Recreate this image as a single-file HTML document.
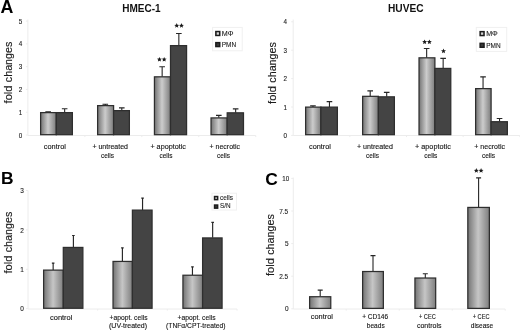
<!DOCTYPE html>
<html><head><meta charset="utf-8"><title>figure</title>
<style>html,body{margin:0;padding:0;background:#fff}svg{display:block;will-change:transform;filter:blur(0.4px)}text{font-family:'Liberation Sans', sans-serif}</style>
</head><body>
<svg width="520" height="331" viewBox="0 0 520 331">
<defs>
<linearGradient id="lgA" x1="0" y1="0" x2="1" y2="0"><stop offset="0" stop-color="#747474"/><stop offset="0.47" stop-color="#cccccc"/><stop offset="1" stop-color="#7c7c7c"/></linearGradient>
<linearGradient id="lgC" x1="0" y1="0" x2="1" y2="0"><stop offset="0" stop-color="#747474"/><stop offset="0.48" stop-color="#c6c6c6"/><stop offset="1" stop-color="#7e7e7e"/></linearGradient>
<linearGradient id="lgL" x1="0" y1="0" x2="1" y2="0"><stop offset="0" stop-color="#9a9a9a"/><stop offset="0.5" stop-color="#e0e0e0"/><stop offset="1" stop-color="#a0a0a0"/></linearGradient>
</defs>
<rect width="520" height="331" fill="#fff"/>
<rect x="212.6" y="27.4" width="29.6" height="23.4" fill="#fff" stroke="#f0f0f0" stroke-width="1"/>
<rect x="215.85" y="31.55" width="3.9" height="3.9" fill="url(#lgL)" stroke="#1c1c1c" stroke-width="1.5"/>
<text x="221.8" y="36" font-size="6.5" text-anchor="start" fill="#222" stroke="#222" stroke-width="0.1" textLength="11.7" lengthAdjust="spacingAndGlyphs">MΦ</text>
<rect x="215.85" y="42.65" width="3.9" height="3.9" fill="#383838" stroke="#1c1c1c" stroke-width="1.5"/>
<text x="221.8" y="47.3" font-size="6.5" text-anchor="start" fill="#222" stroke="#222" stroke-width="0.1" textLength="14.4" lengthAdjust="spacingAndGlyphs">PMN</text>
<rect x="476.3" y="27.4" width="30.4" height="24" fill="#fff" stroke="#f0f0f0" stroke-width="1"/>
<rect x="480.15" y="31.65" width="3.9" height="3.9" fill="url(#lgL)" stroke="#1c1c1c" stroke-width="1.5"/>
<text x="486.2" y="36" font-size="6.5" text-anchor="start" fill="#222" stroke="#222" stroke-width="0.1" textLength="11.6" lengthAdjust="spacingAndGlyphs">MΦ</text>
<rect x="480.15" y="43.35" width="3.9" height="3.9" fill="#383838" stroke="#1c1c1c" stroke-width="1.5"/>
<text x="486.2" y="47.6" font-size="6.5" text-anchor="start" fill="#222" stroke="#222" stroke-width="0.1" textLength="14.4" lengthAdjust="spacingAndGlyphs">PMN</text>
<rect x="212" y="193.2" width="24.5" height="16.8" fill="#fff" stroke="#f0f0f0" stroke-width="1"/>
<rect x="214.55" y="196.55" width="3.1" height="3.1" fill="url(#lgL)" stroke="#1c1c1c" stroke-width="1.5"/>
<text x="220" y="200.1" font-size="6.6" text-anchor="start" fill="#222" stroke="#222" stroke-width="0.1" textLength="12.9" lengthAdjust="spacingAndGlyphs">cells</text>
<rect x="214.55" y="205.05" width="3.1" height="3.1" fill="#383838" stroke="#1c1c1c" stroke-width="1.5"/>
<text x="220" y="208.4" font-size="6.6" text-anchor="start" fill="#222" stroke="#222" stroke-width="0.1" textLength="10.6" lengthAdjust="spacingAndGlyphs">S/N</text>
<path d="M27.9 19.5V135.5H255.75M84.86 135.5v1.6M141.82 135.5v1.6M198.79 135.5v1.6M255.75 135.5v1.6" stroke="#ececec" stroke-width="1" fill="none"/>
<path d="M25.9 21.1H27.9" stroke="#ececec" stroke-width="1"/>
<text x="18.8" y="23.7" font-size="7.6" text-anchor="start" fill="#1a1a1a" stroke="#1a1a1a" stroke-width="0.12" textLength="3.5" lengthAdjust="spacingAndGlyphs">5</text>
<path d="M25.9 43.88H27.9" stroke="#ececec" stroke-width="1"/>
<text x="18.8" y="46.48" font-size="7.6" text-anchor="start" fill="#1a1a1a" stroke="#1a1a1a" stroke-width="0.12" textLength="3.5" lengthAdjust="spacingAndGlyphs">4</text>
<path d="M25.9 66.66H27.9" stroke="#ececec" stroke-width="1"/>
<text x="18.8" y="69.26" font-size="7.6" text-anchor="start" fill="#1a1a1a" stroke="#1a1a1a" stroke-width="0.12" textLength="3.5" lengthAdjust="spacingAndGlyphs">3</text>
<path d="M25.9 89.44H27.9" stroke="#ececec" stroke-width="1"/>
<text x="18.8" y="92.04" font-size="7.6" text-anchor="start" fill="#1a1a1a" stroke="#1a1a1a" stroke-width="0.12" textLength="3.5" lengthAdjust="spacingAndGlyphs">2</text>
<path d="M25.9 112.22H27.9" stroke="#ececec" stroke-width="1"/>
<text x="18.8" y="114.82" font-size="7.6" text-anchor="start" fill="#1a1a1a" stroke="#1a1a1a" stroke-width="0.12" textLength="3.5" lengthAdjust="spacingAndGlyphs">1</text>
<path d="M25.9 135H27.9" stroke="#ececec" stroke-width="1"/>
<text x="18.8" y="137.6" font-size="7.6" text-anchor="start" fill="#1a1a1a" stroke="#1a1a1a" stroke-width="0.12" textLength="3.5" lengthAdjust="spacingAndGlyphs">0</text>
<text transform="translate(11.5 103.4) rotate(-90)" font-size="11.3" fill="#1c1c1c" stroke="#1c1c1c" stroke-width="0.15" textLength="17.8" lengthAdjust="spacingAndGlyphs">fold</text>
<text transform="translate(11.5 82.2) rotate(-90)" font-size="11.3" fill="#1c1c1c" stroke="#1c1c1c" stroke-width="0.15" textLength="40.6" lengthAdjust="spacingAndGlyphs">changes</text>
<path d="M48.15 112.5V111.4M45.35 111.9H50.95" stroke="#262626" stroke-width="1.1" fill="none"/>
<rect x="40.62" y="112.62" width="15.67" height="22.05" fill="url(#lgA)" stroke="#2e2e2e" stroke-width="1.25"/>
<path d="M64.65 112.5V108.2M61.85 108.7H67.45" stroke="#262626" stroke-width="1.1" fill="none"/>
<rect x="56.3" y="112.62" width="16.08" height="22.05" fill="#444444" stroke="#2e2e2e" stroke-width="1.25"/>
<path d="M105.3 105.5V103.8M102.5 104.3H108.1" stroke="#262626" stroke-width="1.1" fill="none"/>
<rect x="97.62" y="105.62" width="15.97" height="29.05" fill="url(#lgA)" stroke="#2e2e2e" stroke-width="1.25"/>
<path d="M121.8 110.5V107.4M119 107.9H124.6" stroke="#262626" stroke-width="1.1" fill="none"/>
<rect x="113.6" y="110.62" width="15.78" height="24.05" fill="#444444" stroke="#2e2e2e" stroke-width="1.25"/>
<path d="M162.15 76.7V66.3M159.35 66.8H164.95" stroke="#262626" stroke-width="1.1" fill="none"/>
<rect x="154.43" y="76.83" width="16.07" height="57.85" fill="url(#lgA)" stroke="#2e2e2e" stroke-width="1.25"/>
<path d="M178.85 45.5V33M176.05 33.5H181.65" stroke="#262626" stroke-width="1.1" fill="none"/>
<rect x="170.5" y="45.62" width="16.07" height="89.05" fill="#444444" stroke="#2e2e2e" stroke-width="1.25"/>
<path d="M218.8 117.8V114.9M216 115.4H221.6" stroke="#262626" stroke-width="1.1" fill="none"/>
<rect x="211.03" y="117.92" width="16.17" height="16.75" fill="url(#lgA)" stroke="#2e2e2e" stroke-width="1.25"/>
<path d="M235.65 112.7V108.4M232.85 108.9H238.45" stroke="#262626" stroke-width="1.1" fill="none"/>
<rect x="227.2" y="112.83" width="16.28" height="21.85" fill="#444444" stroke="#2e2e2e" stroke-width="1.25"/>
<text x="43.8" y="148.6" font-size="7.2" text-anchor="start" fill="#151515" stroke="#151515" stroke-width="0.12" textLength="22.2" lengthAdjust="spacingAndGlyphs">control</text>
<text x="92.4" y="148.5" font-size="7.2" text-anchor="start" fill="#151515" stroke="#151515" stroke-width="0.12" textLength="35.6" lengthAdjust="spacingAndGlyphs">+ untreated</text>
<text x="101" y="157.5" font-size="7.2" text-anchor="start" fill="#151515" stroke="#151515" stroke-width="0.12" textLength="13" lengthAdjust="spacingAndGlyphs">cells</text>
<text x="150.4" y="148.5" font-size="7.2" text-anchor="start" fill="#151515" stroke="#151515" stroke-width="0.12" textLength="35.6" lengthAdjust="spacingAndGlyphs">+ apoptotic</text>
<text x="159.4" y="157.5" font-size="7.2" text-anchor="start" fill="#151515" stroke="#151515" stroke-width="0.12" textLength="13" lengthAdjust="spacingAndGlyphs">cells</text>
<text x="209.6" y="148.5" font-size="7.2" text-anchor="start" fill="#151515" stroke="#151515" stroke-width="0.12" textLength="30.4" lengthAdjust="spacingAndGlyphs">+ necrotic</text>
<text x="217" y="157.5" font-size="7.2" text-anchor="start" fill="#151515" stroke="#151515" stroke-width="0.12" textLength="13" lengthAdjust="spacingAndGlyphs">cells</text>
<path d="M293.2 19.5V135.5H519.8M349.85 135.5v1.6M406.5 135.5v1.6M463.15 135.5v1.6M519.8 135.5v1.6" stroke="#ececec" stroke-width="1" fill="none"/>
<path d="M291.2 21.8H293.2" stroke="#ececec" stroke-width="1"/>
<text x="283.6" y="24.4" font-size="7.6" text-anchor="start" fill="#1a1a1a" stroke="#1a1a1a" stroke-width="0.12" textLength="3.5" lengthAdjust="spacingAndGlyphs">4</text>
<path d="M291.2 50.2H293.2" stroke="#ececec" stroke-width="1"/>
<text x="283.6" y="52.8" font-size="7.6" text-anchor="start" fill="#1a1a1a" stroke="#1a1a1a" stroke-width="0.12" textLength="3.5" lengthAdjust="spacingAndGlyphs">3</text>
<path d="M291.2 78.6H293.2" stroke="#ececec" stroke-width="1"/>
<text x="283.6" y="81.2" font-size="7.6" text-anchor="start" fill="#1a1a1a" stroke="#1a1a1a" stroke-width="0.12" textLength="3.5" lengthAdjust="spacingAndGlyphs">2</text>
<path d="M291.2 107H293.2" stroke="#ececec" stroke-width="1"/>
<text x="283.6" y="109.6" font-size="7.6" text-anchor="start" fill="#1a1a1a" stroke="#1a1a1a" stroke-width="0.12" textLength="3.5" lengthAdjust="spacingAndGlyphs">1</text>
<path d="M291.2 135.4H293.2" stroke="#ececec" stroke-width="1"/>
<text x="283.6" y="138" font-size="7.6" text-anchor="start" fill="#1a1a1a" stroke="#1a1a1a" stroke-width="0.12" textLength="3.5" lengthAdjust="spacingAndGlyphs">0</text>
<text transform="translate(275.6 103.9) rotate(-90)" font-size="11.3" fill="#1c1c1c" stroke="#1c1c1c" stroke-width="0.15" textLength="17.8" lengthAdjust="spacingAndGlyphs">fold</text>
<text transform="translate(275.6 82.7) rotate(-90)" font-size="11.3" fill="#1c1c1c" stroke="#1c1c1c" stroke-width="0.15" textLength="40.6" lengthAdjust="spacingAndGlyphs">changes</text>
<path d="M312.95 107V105.4M310.15 105.9H315.75" stroke="#262626" stroke-width="1.1" fill="none"/>
<rect x="305.62" y="107.12" width="15.27" height="27.55" fill="url(#lgA)" stroke="#2e2e2e" stroke-width="1.25"/>
<path d="M329.45 107V101.1M326.65 101.6H332.25" stroke="#262626" stroke-width="1.1" fill="none"/>
<rect x="320.9" y="107.12" width="16.48" height="27.55" fill="#444444" stroke="#2e2e2e" stroke-width="1.25"/>
<path d="M370.2 96.2V90.4M367.4 90.9H373" stroke="#262626" stroke-width="1.1" fill="none"/>
<rect x="362.62" y="96.33" width="15.77" height="38.35" fill="url(#lgA)" stroke="#2e2e2e" stroke-width="1.25"/>
<path d="M386.7 96.7V91.9M383.9 92.4H389.5" stroke="#262626" stroke-width="1.1" fill="none"/>
<rect x="378.4" y="96.83" width="15.98" height="37.85" fill="#444444" stroke="#2e2e2e" stroke-width="1.25"/>
<path d="M426.65 57.7V48M423.85 48.5H429.45" stroke="#262626" stroke-width="1.1" fill="none"/>
<rect x="419.02" y="57.83" width="15.88" height="76.85" fill="url(#lgA)" stroke="#2e2e2e" stroke-width="1.25"/>
<path d="M443.15 68.3V57.9M440.35 58.4H445.95" stroke="#262626" stroke-width="1.1" fill="none"/>
<rect x="434.9" y="68.42" width="15.88" height="66.25" fill="#444444" stroke="#2e2e2e" stroke-width="1.25"/>
<path d="M483.05 88.5V76.4M480.25 76.9H485.85" stroke="#262626" stroke-width="1.1" fill="none"/>
<rect x="475.62" y="88.62" width="15.48" height="46.05" fill="url(#lgA)" stroke="#2e2e2e" stroke-width="1.25"/>
<path d="M499.55 121.6V118M496.75 118.5H502.35" stroke="#262626" stroke-width="1.1" fill="none"/>
<rect x="491.1" y="121.72" width="16.27" height="12.95" fill="#444444" stroke="#2e2e2e" stroke-width="1.25"/>
<text x="309" y="148.6" font-size="7.2" text-anchor="start" fill="#151515" stroke="#151515" stroke-width="0.12" textLength="22" lengthAdjust="spacingAndGlyphs">control</text>
<text x="357" y="148.5" font-size="7.2" text-anchor="start" fill="#151515" stroke="#151515" stroke-width="0.12" textLength="36" lengthAdjust="spacingAndGlyphs">+ untreated</text>
<text x="366" y="157.5" font-size="7.2" text-anchor="start" fill="#151515" stroke="#151515" stroke-width="0.12" textLength="13" lengthAdjust="spacingAndGlyphs">cells</text>
<text x="415" y="148.5" font-size="7.2" text-anchor="start" fill="#151515" stroke="#151515" stroke-width="0.12" textLength="35.8" lengthAdjust="spacingAndGlyphs">+ apoptotic</text>
<text x="424.2" y="157.5" font-size="7.2" text-anchor="start" fill="#151515" stroke="#151515" stroke-width="0.12" textLength="13.2" lengthAdjust="spacingAndGlyphs">cells</text>
<text x="474.3" y="148.5" font-size="7.2" text-anchor="start" fill="#151515" stroke="#151515" stroke-width="0.12" textLength="30.7" lengthAdjust="spacingAndGlyphs">+ necrotic</text>
<text x="481.9" y="157.5" font-size="7.2" text-anchor="start" fill="#151515" stroke="#151515" stroke-width="0.12" textLength="13.2" lengthAdjust="spacingAndGlyphs">cells</text>
<path d="M28 190.5V309H237M97.67 309v1.6M167.33 309v1.6M237 309v1.6" stroke="#ececec" stroke-width="1" fill="none"/>
<path d="M26 190.5H28" stroke="#ececec" stroke-width="1"/>
<text x="20.2" y="193.1" font-size="7.6" text-anchor="start" fill="#1a1a1a" stroke="#1a1a1a" stroke-width="0.12" textLength="3.6" lengthAdjust="spacingAndGlyphs">3</text>
<path d="M26 229.9H28" stroke="#ececec" stroke-width="1"/>
<text x="20.2" y="232.5" font-size="7.6" text-anchor="start" fill="#1a1a1a" stroke="#1a1a1a" stroke-width="0.12" textLength="3.6" lengthAdjust="spacingAndGlyphs">2</text>
<path d="M26 269.3H28" stroke="#ececec" stroke-width="1"/>
<text x="20.2" y="271.9" font-size="7.6" text-anchor="start" fill="#1a1a1a" stroke="#1a1a1a" stroke-width="0.12" textLength="3.6" lengthAdjust="spacingAndGlyphs">1</text>
<path d="M26 308.7H28" stroke="#ececec" stroke-width="1"/>
<text x="20.2" y="311.3" font-size="7.6" text-anchor="start" fill="#1a1a1a" stroke="#1a1a1a" stroke-width="0.12" textLength="3.6" lengthAdjust="spacingAndGlyphs">0</text>
<text transform="translate(11.7 273.5) rotate(-90)" font-size="11.3" fill="#1c1c1c" stroke="#1c1c1c" stroke-width="0.15" textLength="17.8" lengthAdjust="spacingAndGlyphs">fold</text>
<text transform="translate(11.7 252.3) rotate(-90)" font-size="11.3" fill="#1c1c1c" stroke="#1c1c1c" stroke-width="0.15" textLength="40.6" lengthAdjust="spacingAndGlyphs">changes</text>
<path d="M53.15 270V262.6M51.85 263.1H54.45" stroke="#262626" stroke-width="1.15" fill="none"/>
<rect x="43.62" y="270.12" width="19.67" height="38.15" fill="url(#lgC)" stroke="#2e2e2e" stroke-width="1.25"/>
<path d="M73.4 247.3V235M72.1 235.5H74.7" stroke="#262626" stroke-width="1.15" fill="none"/>
<rect x="63.3" y="247.43" width="19.58" height="60.85" fill="#444444" stroke="#2e2e2e" stroke-width="1.25"/>
<path d="M122.4 261.3V247.3M121.1 247.8H123.7" stroke="#262626" stroke-width="1.15" fill="none"/>
<rect x="113.03" y="261.43" width="19.38" height="46.85" fill="url(#lgC)" stroke="#2e2e2e" stroke-width="1.25"/>
<path d="M142.55 210V197.6M141.25 198.1H143.85" stroke="#262626" stroke-width="1.15" fill="none"/>
<rect x="132.4" y="210.12" width="19.67" height="98.15" fill="#444444" stroke="#2e2e2e" stroke-width="1.25"/>
<path d="M192.45 275.1V266.4M191.15 266.9H193.75" stroke="#262626" stroke-width="1.15" fill="none"/>
<rect x="182.93" y="275.23" width="19.67" height="33.05" fill="url(#lgC)" stroke="#2e2e2e" stroke-width="1.25"/>
<path d="M212.65 237.8V221.9M211.35 222.4H213.95" stroke="#262626" stroke-width="1.15" fill="none"/>
<rect x="202.6" y="237.93" width="19.47" height="70.35" fill="#444444" stroke="#2e2e2e" stroke-width="1.25"/>
<text x="50" y="319.7" font-size="7.2" text-anchor="start" fill="#151515" stroke="#151515" stroke-width="0.12" textLength="22.4" lengthAdjust="spacingAndGlyphs">control</text>
<text x="109.5" y="319.7" font-size="7.2" text-anchor="start" fill="#151515" stroke="#151515" stroke-width="0.12" textLength="38" lengthAdjust="spacingAndGlyphs">+apopt. cells</text>
<text x="109" y="328.4" font-size="7.2" text-anchor="start" fill="#151515" stroke="#151515" stroke-width="0.12" textLength="38.1" lengthAdjust="spacingAndGlyphs">(UV-treated)</text>
<text x="177.5" y="319.7" font-size="7.2" text-anchor="start" fill="#151515" stroke="#151515" stroke-width="0.12" textLength="38" lengthAdjust="spacingAndGlyphs">+apopt. cells</text>
<text x="166.1" y="328.4" font-size="7.2" text-anchor="start" fill="#151515" stroke="#151515" stroke-width="0.12" textLength="59.4" lengthAdjust="spacingAndGlyphs">(TNFα/CPT-treated)</text>
<path d="M293.25 177.5V309H505.2M346.24 309v1.6M399.23 309v1.6M452.21 309v1.6M505.2 309v1.6" stroke="#ececec" stroke-width="1" fill="none"/>
<path d="M291.25 308.8H293.25" stroke="#ececec" stroke-width="1"/>
<text x="285" y="311.4" font-size="7.6" text-anchor="start" fill="#1a1a1a" stroke="#1a1a1a" stroke-width="0.12" textLength="3.6" lengthAdjust="spacingAndGlyphs">0</text>
<path d="M291.25 276.2H293.25" stroke="#ececec" stroke-width="1"/>
<text x="279.2" y="278.8" font-size="7.6" text-anchor="start" fill="#1a1a1a" stroke="#1a1a1a" stroke-width="0.12" textLength="9" lengthAdjust="spacingAndGlyphs">2.5</text>
<path d="M291.25 243.6H293.25" stroke="#ececec" stroke-width="1"/>
<text x="285" y="246.2" font-size="7.6" text-anchor="start" fill="#1a1a1a" stroke="#1a1a1a" stroke-width="0.12" textLength="3.6" lengthAdjust="spacingAndGlyphs">5</text>
<path d="M291.25 211H293.25" stroke="#ececec" stroke-width="1"/>
<text x="279.2" y="213.6" font-size="7.6" text-anchor="start" fill="#1a1a1a" stroke="#1a1a1a" stroke-width="0.12" textLength="9" lengthAdjust="spacingAndGlyphs">7.5</text>
<path d="M291.25 178.4H293.25" stroke="#ececec" stroke-width="1"/>
<text x="282.2" y="181" font-size="7.6" text-anchor="start" fill="#1a1a1a" stroke="#1a1a1a" stroke-width="0.12" textLength="6.9" lengthAdjust="spacingAndGlyphs">10</text>
<text transform="translate(274 276) rotate(-90)" font-size="11.3" fill="#1c1c1c" stroke="#1c1c1c" stroke-width="0.15" textLength="17.8" lengthAdjust="spacingAndGlyphs">fold</text>
<text transform="translate(274 254.8) rotate(-90)" font-size="11.3" fill="#1c1c1c" stroke="#1c1c1c" stroke-width="0.15" textLength="40.6" lengthAdjust="spacingAndGlyphs">changes</text>
<path d="M320.2 296.6V289.6M317.7 290.1H322.7" stroke="#262626" stroke-width="1.1" fill="none"/>
<rect x="309.62" y="296.73" width="21.15" height="11.65" fill="url(#lgC)" stroke="#2e2e2e" stroke-width="1.25"/>
<path d="M373 271.4V255.1M370.5 255.6H375.5" stroke="#262626" stroke-width="1.1" fill="none"/>
<rect x="362.62" y="271.52" width="20.75" height="36.85" fill="url(#lgC)" stroke="#2e2e2e" stroke-width="1.25"/>
<path d="M425.3 277.9V273.3M422.8 273.8H427.8" stroke="#262626" stroke-width="1.1" fill="none"/>
<rect x="414.93" y="278.02" width="20.75" height="30.35" fill="url(#lgC)" stroke="#2e2e2e" stroke-width="1.25"/>
<path d="M478.6 207.3V177.4M476.1 177.9H481.1" stroke="#262626" stroke-width="1.1" fill="none"/>
<rect x="467.82" y="207.43" width="21.55" height="100.95" fill="url(#lgC)" stroke="#2e2e2e" stroke-width="1.25"/>
<text x="310.8" y="319.3" font-size="7.2" text-anchor="start" fill="#151515" stroke="#151515" stroke-width="0.12" textLength="22.2" lengthAdjust="spacingAndGlyphs">control</text>
<text x="362.2" y="319.3" font-size="7.2" text-anchor="start" fill="#151515" stroke="#151515" stroke-width="0.12" textLength="25.9" lengthAdjust="spacingAndGlyphs">+ CD146</text>
<text x="366.8" y="327.9" font-size="7.2" text-anchor="start" fill="#151515" stroke="#151515" stroke-width="0.12" textLength="17.9" lengthAdjust="spacingAndGlyphs">beads</text>
<text x="419" y="319.3" font-size="7.2" text-anchor="start" fill="#151515" stroke="#151515" stroke-width="0.12" textLength="16.7" lengthAdjust="spacingAndGlyphs">+ CEC</text>
<text x="416.9" y="327.9" font-size="7.2" text-anchor="start" fill="#151515" stroke="#151515" stroke-width="0.12" textLength="24.6" lengthAdjust="spacingAndGlyphs">controls</text>
<text x="472.7" y="319.3" font-size="7.2" text-anchor="start" fill="#151515" stroke="#151515" stroke-width="0.12" textLength="16.8" lengthAdjust="spacingAndGlyphs">+ CEC</text>
<text x="470.8" y="327.9" font-size="7.2" text-anchor="start" fill="#151515" stroke="#151515" stroke-width="0.12" textLength="22.4" lengthAdjust="spacingAndGlyphs">disease</text>
<polygon points="159.43,56.9 160.11,58.55 161.9,58.7 160.54,59.86 160.95,61.6 159.43,60.67 157.9,61.6 158.31,59.86 156.95,58.7 158.74,58.55" fill="#1a1a1a"/>
<polygon points="164.18,56.9 164.86,58.55 166.65,58.7 165.29,59.86 165.7,61.6 164.18,60.67 162.65,61.6 163.06,59.86 161.7,58.7 163.49,58.55" fill="#1a1a1a"/>
<polygon points="176.72,23.1 177.41,24.75 179.2,24.9 177.84,26.06 178.25,27.8 176.72,26.87 175.2,27.8 175.61,26.06 174.25,24.9 176.04,24.75" fill="#1a1a1a"/>
<polygon points="181.47,23.1 182.16,24.75 183.95,24.9 182.59,26.06 183,27.8 181.47,26.87 179.95,27.8 180.36,26.06 179,24.9 180.79,24.75" fill="#1a1a1a"/>
<polygon points="424.62,39.4 425.31,41.05 427.1,41.2 425.74,42.36 426.15,44.1 424.62,43.17 423.1,44.1 423.51,42.36 422.15,41.2 423.94,41.05" fill="#1a1a1a"/>
<polygon points="429.38,39.4 430.06,41.05 431.85,41.2 430.49,42.36 430.9,44.1 429.38,43.17 427.85,44.1 428.26,42.36 426.9,41.2 428.69,41.05" fill="#1a1a1a"/>
<polygon points="443.5,48.5 444.19,50.15 445.97,50.3 444.61,51.46 445.03,53.2 443.5,52.27 441.97,53.2 442.39,51.46 441.03,50.3 442.81,50.15" fill="#1a1a1a"/>
<polygon points="476.32,168.1 477.01,169.75 478.8,169.9 477.44,171.06 477.85,172.8 476.32,171.87 474.8,172.8 475.21,171.06 473.85,169.9 475.64,169.75" fill="#1a1a1a"/>
<polygon points="481.07,168.1 481.76,169.75 483.55,169.9 482.19,171.06 482.6,172.8 481.07,171.87 479.55,172.8 479.96,171.06 478.6,169.9 480.39,169.75" fill="#1a1a1a"/>
<text x="0.6" y="13.4" font-size="17.8" text-anchor="start" font-weight="bold" fill="#000">A</text>
<text x="1.1" y="184.4" font-size="17.4" text-anchor="start" font-weight="bold" fill="#000">B</text>
<text x="265.2" y="184.8" font-size="17.4" text-anchor="start" font-weight="bold" fill="#000">C</text>
<text x="122.2" y="11.9" font-size="10.1" text-anchor="start" font-weight="bold" fill="#111" textLength="38.4" lengthAdjust="spacingAndGlyphs">HMEC-1</text>
<text x="388" y="12.4" font-size="10.1" text-anchor="start" font-weight="bold" fill="#111" textLength="35.6" lengthAdjust="spacingAndGlyphs">HUVEC</text>
</svg></body></html>
